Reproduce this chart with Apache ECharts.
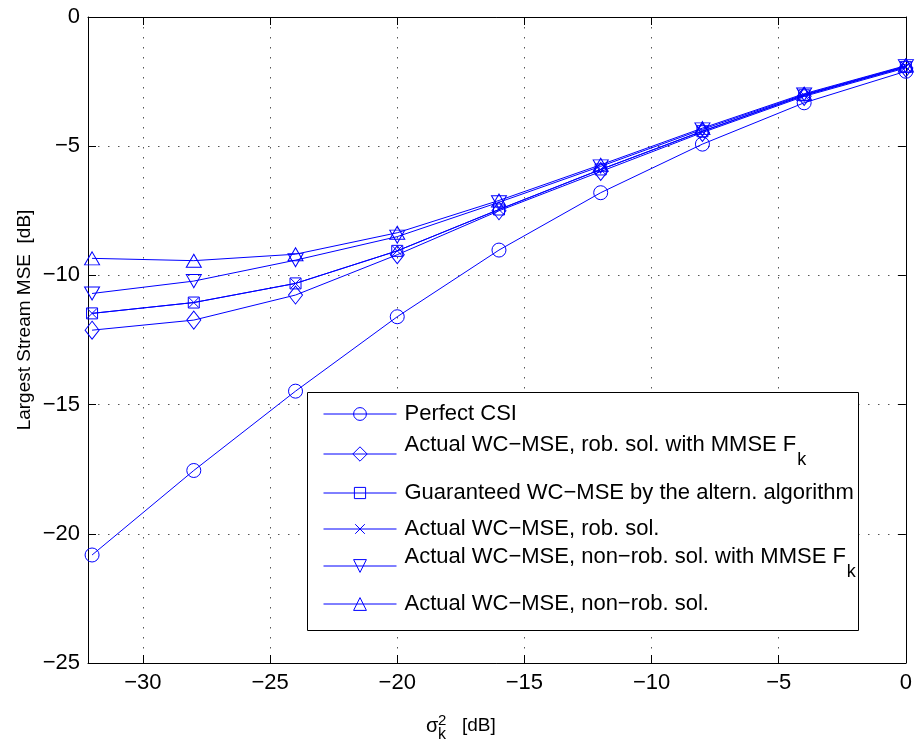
<!DOCTYPE html>
<html>
<head>
<meta charset="utf-8">
<script src="https://cdn.jsdelivr.net/npm/echarts@6/dist/echarts.min.js"></script>
<style>
html,body{margin:0;padding:0;background:#fff;}
#chart{width:915px;height:742px;}
</style>
</head>
<body>
<div id="chart"></div>
<script>
// ---- data ----
var xValues = [-32, -28, -24, -20, -16, -12, -8, -4, 0];
var perfectCSI = [-20.82, -17.55, -14.48, -11.6, -9.02, -6.8, -4.92, -3.32, -2.1];
var actualRobMMSE = [-12.12, -11.73, -10.76, -9.2, -7.5, -5.98, -4.47, -3.07, -1.97];
var guaranteedAltern = [-11.47, -11.05, -10.31, -9.05, -7.45, -5.9, -4.42, -3.03, -1.93];
var actualRob = [-11.47, -11.05, -10.31, -9.05, -7.45, -5.9, -4.42, -3.03, -1.93];
var actualNonRobMMSE = [-10.7, -10.22, -9.41, -8.5, -7.17, -5.78, -4.35, -3.0, -1.9];
var actualNonRob = [-9.34, -9.43, -9.18, -8.35, -7.1, -5.72, -4.3, -2.97, -1.88];
var seriesNames = [
  'Perfect CSI',
  'Actual WC\u2212MSE, rob. sol. with MMSE F_k',
  'Guaranteed WC\u2212MSE by the altern. algorithm',
  'Actual WC\u2212MSE, rob. sol.',
  'Actual WC\u2212MSE, non\u2212rob. sol. with MMSE F_k',
  'Actual WC\u2212MSE, non\u2212rob. sol.'
];
var xTicks = [-30, -25, -20, -15, -10, -5, 0];
var xMin = -32.16, xMax = 0;
var yMin = -25, yMax = 0, yStep = 5;

// ---- chart ----
var FONT = 'Liberation Sans';
var BLUE = '#0000ff';
var CLEAR = 'rgba(0,0,255,0)';
function pairs(ys) { return xValues.map(function (x, i) { return [x, ys[i]]; }); }
function minusFmt(v) { return v < 0 ? '\u2212' + (-v) : String(v); }

var markers = [
  {symbol: 'circle', size: 14, legendH: 16},
  {symbol: 'diamond', size: [14, 18], legendH: 18},
  {symbol: 'rect', size: 11, legendH: 14},
  {symbol: 'path://M0,0L10,10M10,0L0,10', size: 10, legendH: 12},
  {symbol: 'path://M0,0L10,0L5,8.7Z', size: [15, 13], legendH: 16},
  {symbol: 'triangle', size: [15, 13], legendH: 16}
];
var dataSets = [perfectCSI, actualRobMMSE, guaranteedAltern, actualRob, actualNonRobMMSE, actualNonRob];
var legendCenters = [414, 454, 493, 529, 566, 604];

var series = dataSets.map(function (d, i) {
  return {
    name: seriesNames[i],
    type: 'line',
    data: pairs(d),
    color: BLUE,
    symbol: markers[i].symbol,
    symbolSize: markers[i].size,
    showSymbol: true,
    animation: false,
    lineStyle: {color: BLUE, width: 1, opacity: 1},
    itemStyle: {color: CLEAR, borderColor: BLUE, borderWidth: 1, opacity: 1},
    emphasis: {disabled: true},
    z: 2
  };
});

function legendFmt(name) {
  if (name.indexOf('_k') >= 0) {
    return '{m|' + name.replace('_k', '') + '}{s|k}';
  }
  return '{p|' + name + '}';
}

var legends = seriesNames.map(function (n, i) {
  var rich = n.indexOf('_k') >= 0;
  var h = markers[i].legendH;
  var boxH = rich ? 40 : Math.max(22, h);
  return {
    show: true,
    z: 6,
    left: 323,
    top: legendCenters[i] - boxH / 2,
    orient: 'vertical',
    padding: 0,
    itemWidth: 73,
    itemHeight: h,
    selectedMode: false,
    data: [n],
    formatter: legendFmt,
    itemStyle: {color: CLEAR, borderColor: BLUE, borderWidth: 1},
    lineStyle: {color: BLUE, width: 1},
    textStyle: {
      fontFamily: FONT, fontSize: 22, color: '#000',
      rich: {
        p: {fontFamily: FONT, fontSize: 22, color: '#000', padding: [0, 0, 0, 3]},
        m: {fontFamily: FONT, fontSize: 22, color: '#000', padding: [0, 0, 0, 3], verticalAlign: 'top'},
        s: {fontFamily: FONT, fontSize: 18, color: '#000', padding: [17, 0, 5, 1], verticalAlign: 'bottom'}
      }
    }
  };
});

var axisLineStyle = {color: '#000', width: 1};
var option = {
  backgroundColor: '#fff',
  animation: false,
  grid: {left: 88, right: 7, top: 17, bottom: 79, containLabel: false},
  xAxis: [{
    type: 'value', min: xMin, max: xMax, position: 'bottom',
    axisLine: {show: true, onZero: false, lineStyle: axisLineStyle},
    axisTick: {show: true, inside: true, length: 8, customValues: xTicks, lineStyle: axisLineStyle},
    axisLabel: {show: true, customValues: xTicks, formatter: minusFmt, fontFamily: FONT, fontSize: 22, color: '#000', margin: 9},
    splitLine: {show: true, lineStyle: {color: '#555', width: 1, type: [1.5, 8.5]}}
  }, {
    type: 'value', min: xMin, max: xMax, position: 'top',
    axisLine: {show: true, onZero: false, lineStyle: axisLineStyle},
    axisTick: {show: true, inside: true, length: 8, customValues: xTicks, lineStyle: axisLineStyle},
    axisLabel: {show: false},
    splitLine: {show: false}
  }],
  yAxis: [{
    type: 'value', min: yMin, max: yMax, interval: yStep, position: 'left',
    axisLine: {show: true, onZero: false, lineStyle: axisLineStyle},
    axisTick: {show: true, inside: true, length: 8, lineStyle: axisLineStyle},
    axisLabel: {show: true, formatter: minusFmt, fontFamily: FONT, fontSize: 22, color: '#000', margin: 8},
    splitLine: {show: true, lineStyle: {color: '#555', width: 1, type: [1.5, 8.5]}}
  }, {
    type: 'value', min: yMin, max: yMax, interval: yStep, position: 'right',
    axisLine: {show: true, onZero: false, lineStyle: axisLineStyle},
    axisTick: {show: true, inside: true, length: 8, lineStyle: axisLineStyle},
    axisLabel: {show: false},
    splitLine: {show: false}
  }],
  legend: legends,
  series: series,
  graphic: [
    {type: 'rect', z: 3, shape: {x: 307.5, y: 392.5, width: 551, height: 238}, style: {fill: '#fff', stroke: '#000', lineWidth: 1}},
    {type: 'text', x: 25, y: 320, rotation: Math.PI / 2,
     style: {text: 'Largest Stream MSE  [dB]', font: '19px "Liberation Sans"', fill: '#000', align: 'center', verticalAlign: 'middle'}},
    {type: 'text', x: 426, y: 726, style: {text: '\u03c3', font: '20px "Liberation Sans"', fill: '#000', align: 'left', verticalAlign: 'middle'}},
    {type: 'text', x: 438, y: 721, style: {text: '2', font: '15px "Liberation Sans"', fill: '#000', align: 'left', verticalAlign: 'middle'}},
    {type: 'text', x: 438, y: 735, style: {text: 'k', font: '16px "Liberation Sans"', fill: '#000', align: 'left', verticalAlign: 'middle'}},
    {type: 'text', x: 462, y: 726, style: {text: '[dB]', font: '19px "Liberation Sans"', fill: '#000', align: 'left', verticalAlign: 'middle'}}
  ]
};
var chart = echarts.init(document.getElementById('chart'), null, {renderer: 'canvas'});
chart.setOption(option);
</script>
</body>
</html>
